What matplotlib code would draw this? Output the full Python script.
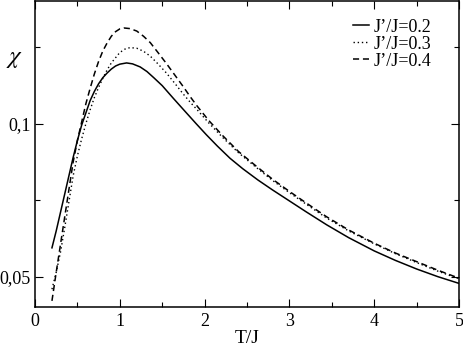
import matplotlib
matplotlib.use("Agg")
import matplotlib.pyplot as plt
from matplotlib.ticker import FixedLocator

plt.rcParams['font.family'] = ['Liberation Serif', 'DejaVu Serif']
plt.rcParams['mathtext.fontset'] = 'stix'

# J'/J = 0.2 (solid)
x02 = [0.2, 0.25, 0.3, 0.35, 0.4, 0.45, 0.5, 0.55, 0.6, 0.65, 0.7, 0.75, 0.8, 0.85,
       0.9, 0.95, 1.0, 1.08, 1.15, 1.24, 1.32, 1.4, 1.5, 1.63, 1.75, 1.9, 2.02,
       2.15, 2.3, 2.45, 2.63, 2.8, 3.0, 3.2, 3.44, 3.7, 4.0, 4.25, 4.5, 4.75, 5.0]
y02 = [0.0595, 0.065, 0.071, 0.077, 0.083, 0.089, 0.0945, 0.0995, 0.1035, 0.1075,
       0.1105, 0.113, 0.115, 0.1165, 0.1178, 0.1188, 0.1194, 0.1198, 0.1195, 0.1185,
       0.117, 0.115, 0.1124, 0.1083, 0.1046, 0.1, 0.0964, 0.0927, 0.0887, 0.0853,
       0.0816, 0.0784, 0.0748, 0.0712, 0.067, 0.0628, 0.0585, 0.0554, 0.0526, 0.0501,
       0.0479]

# J'/J = 0.3 (dotted)
x03 = [0.2, 0.25, 0.3, 0.35, 0.4, 0.45, 0.5, 0.55, 0.6, 0.65, 0.7, 0.75, 0.8, 0.85,
       0.9, 0.95, 1.0, 1.06, 1.12, 1.2, 1.28, 1.36, 1.45, 1.55, 1.65, 1.75, 1.83,
       1.91, 2.05, 2.22, 2.4, 2.61, 2.8, 3.0, 3.2, 3.44, 3.7, 4.0, 4.25, 4.5, 4.75, 5.0]
y03 = [0.046, 0.0515, 0.058, 0.066, 0.0745, 0.083, 0.0895, 0.095, 0.1, 0.1045,
       0.1085, 0.1118, 0.1148, 0.1175, 0.1198, 0.1215, 0.1232, 0.1243, 0.1248, 0.1246,
       0.1236, 0.122, 0.1195, 0.1165, 0.1131, 0.1096, 0.107, 0.1046, 0.1002, 0.0953,
       0.0905, 0.0857, 0.0815, 0.0775, 0.0737, 0.0692, 0.065, 0.0608, 0.0576, 0.0547,
       0.0519, 0.0494]

# J'/J = 0.4 (dashed)
x04 = [0.2, 0.25, 0.3, 0.35, 0.4, 0.45, 0.5, 0.55, 0.6, 0.65, 0.7, 0.75, 0.8, 0.85,
       0.9, 0.95, 1.0, 1.05, 1.12, 1.2, 1.28, 1.36, 1.45, 1.55, 1.65, 1.75, 1.83,
       1.91, 2.05, 2.22, 2.4, 2.61, 2.8, 3.0, 3.2, 3.44, 3.7, 4.0, 4.25, 4.5, 4.75, 5.0]
y04 = [0.0422, 0.0515, 0.0605, 0.0695, 0.0785, 0.0875, 0.0945, 0.1005, 0.1065,
       0.1115, 0.1162, 0.1203, 0.1237, 0.1263, 0.1285, 0.13, 0.1309, 0.1312, 0.131,
       0.1302, 0.1285, 0.1264, 0.1232, 0.1196, 0.1158, 0.112, 0.1088, 0.1058, 0.101,
       0.0959, 0.0909, 0.0861, 0.0819, 0.0779, 0.0741, 0.0696, 0.0653, 0.061, 0.0578,
       0.055, 0.0522, 0.0496]

labels = ["J\u2019/J=0.2", "J\u2019/J=0.3", "J\u2019/J=0.4"]
xticks = [0, 1, 2, 3, 4, 5]
yticks = [0.05, 0.1]
ytick_labels = ["0,05", "0,1"]

fig = plt.figure(figsize=(4.63, 3.47), dpi=100)
ax = fig.add_axes([35/463, 1 - 307/347, 424/463, 306/347])

ax.plot(x02, y02, color='black', lw=1.1, linestyle='-', label=labels[0])
ax.plot(x03, y03, color='black', lw=1.0, linestyle=(0, (1, 2)), label=labels[1])
ax.plot(x04, y04, color='black', lw=1.1, linestyle=(0, (4, 2.5)), label=labels[2])

ax.set_xlim(0, 5)
ax.set_ylim(0.0402, 0.140)

ax.xaxis.set_major_locator(FixedLocator(xticks))
ax.xaxis.set_minor_locator(FixedLocator([0.5, 1.5, 2.5, 3.5, 4.5]))
ax.yaxis.set_major_locator(FixedLocator(yticks))
ax.yaxis.set_minor_locator(FixedLocator([0.075, 0.125]))
ax.set_yticklabels(ytick_labels)
ax.set_xticklabels([str(t) for t in xticks])

ax.tick_params(which='both', direction='in', top=True, right=True, width=0.8,
               labelsize=13, colors='black')
ax.tick_params(which='major', length=6, pad=4)
ax.tick_params(axis='y', which='major', pad=3)
ax.tick_params(which='minor', length=3.5)
for s in ax.spines.values():
    s.set_linewidth(1.1)

ax.set_xlabel("T/J", fontsize=14, labelpad=0)
fig.text(15/463, 1 - 59/347, r"$\chi$", fontsize=18, ha='center', va='center')

leg = ax.legend(loc='upper right', bbox_to_anchor=(0.97, 0.99), frameon=False,
                fontsize=13, handlelength=0.85, handletextpad=0.3,
                labelspacing=0.0, borderpad=0.3)

fig.savefig("out.png", dpi=100)
